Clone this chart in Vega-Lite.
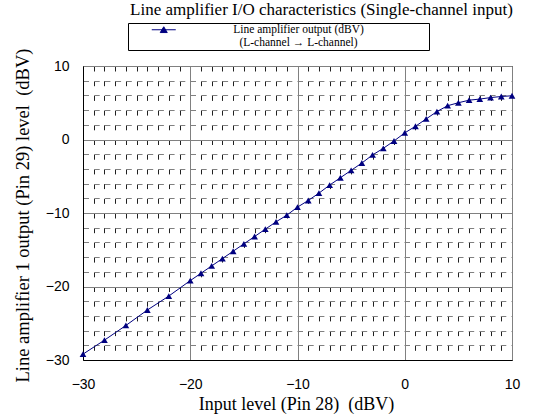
{
  "$schema": "https://vega.github.io/schema/vega-lite/v6.json",
  "autosize": "none",
  "width": 429,
  "height": 294,
  "padding": {"left": 83, "top": 66, "right": 38, "bottom": 58},
  "background": "white",
  "title": {
    "text": "Line amplifier I/O characteristics (Single-channel input)",
    "font": "Liberation Serif",
    "fontSize": 17,
    "fontWeight": "normal",
    "color": "black",
    "anchor": "middle",
    "frame": "group",
    "dx": 24,
    "offset": 4
  },
  "data": {
    "values": [
      {"input": -30, "output": -29.2, "series": "L"},
      {"input": -28, "output": -27.3, "series": "L"},
      {"input": -26, "output": -25.3, "series": "L"},
      {"input": -24, "output": -23.2, "series": "L"},
      {"input": -22, "output": -21.3, "series": "L"},
      {"input": -20, "output": -19.2, "series": "L"},
      {"input": -19, "output": -18.2, "series": "L"},
      {"input": -18, "output": -17.2, "series": "L"},
      {"input": -17, "output": -16.2, "series": "L"},
      {"input": -16, "output": -15.2, "series": "L"},
      {"input": -15, "output": -14.2, "series": "L"},
      {"input": -14, "output": -13.2, "series": "L"},
      {"input": -13, "output": -12.2, "series": "L"},
      {"input": -12, "output": -11.2, "series": "L"},
      {"input": -11, "output": -10.3, "series": "L"},
      {"input": -10, "output": -9.2, "series": "L"},
      {"input": -9, "output": -8.3, "series": "L"},
      {"input": -8, "output": -7.3, "series": "L"},
      {"input": -7, "output": -6.2, "series": "L"},
      {"input": -6, "output": -5.2, "series": "L"},
      {"input": -5, "output": -4.2, "series": "L"},
      {"input": -4, "output": -3.2, "series": "L"},
      {"input": -3, "output": -2.1, "series": "L"},
      {"input": -2, "output": -1.2, "series": "L"},
      {"input": -1, "output": -0.2, "series": "L"},
      {"input": 0, "output": 0.9, "series": "L"},
      {"input": 1, "output": 1.8, "series": "L"},
      {"input": 2, "output": 2.8, "series": "L"},
      {"input": 3, "output": 3.8, "series": "L"},
      {"input": 4, "output": 4.6, "series": "L"},
      {"input": 5, "output": 5.0, "series": "L"},
      {"input": 6, "output": 5.35, "series": "L"},
      {"input": 7, "output": 5.5, "series": "L"},
      {"input": 8, "output": 5.7, "series": "L"},
      {"input": 9, "output": 5.85, "series": "L"},
      {"input": 10, "output": 5.95, "series": "L"}
    ]
  },
  "encoding": {
    "x": {
      "field": "input",
      "type": "quantitative",
      "scale": {"domain": [-30, 10], "nice": false, "zero": false},
      "axis": {
        "title": "Input level (Pin 28) \u00a0(dBV)",
        "values": [-30,-29,-28,-27,-26,-25,-24,-23,-22,-21,-20,-19,-18,-17,-16,-15,-14,-13,-12,-11,-10,-9,-8,-7,-6,-5,-4,-3,-2,-1,0,1,2,3,4,5,6,7,8,9,10],
        "labelExpr": "datum.value % 10 === 0 ? datum.label : ''",
        "labelFlush": false,
        "grid": true,
        "gridColor": {"condition": {"test": "datum.value % 10 === 0", "value": "#808080"}, "value": "#202020"},
        "gridDash": {"condition": {"test": "datum.value % 10 === 0", "value": []}, "value": [5, 9.7]},
        "gridWidth": 1,
        "ticks": false,
        "domainColor": "black",
        "domainWidth": 1,
        "labelFont": "Liberation Sans",
        "labelFontSize": 14,
        "labelColor": "black",
        "labelPadding": 17,
        "labelOverlap": false,
        "titleFont": "Liberation Serif",
        "titleFontSize": 18,
        "titleFontWeight": "normal",
        "titleColor": "black",
        "titleBaseline": "alphabetic",
        "titleY": 49,
        "titleX": 213
      }
    },
    "y": {
      "field": "output",
      "type": "quantitative",
      "scale": {"domain": [-30, 10], "nice": false, "zero": false},
      "axis": {
        "title": "Line amplifier 1 output (Pin 29) level \u00a0(dBV)",
        "values": [-30,-28,-26,-24,-22,-20,-18,-16,-14,-12,-10,-8,-6,-4,-2,0,2,4,6,8,10],
        "labelExpr": "datum.value % 10 === 0 ? datum.label : ''",
        "labelFlush": false,
        "grid": true,
        "gridColor": "#808080",
        "gridDash": {"condition": {"test": "datum.value % 10 === 0", "value": []}, "value": [5.5, 5.2]},
        "gridWidth": 1,
        "ticks": false,
        "domainColor": "black",
        "domainWidth": 1,
        "labelFont": "Liberation Sans",
        "labelFontSize": 14,
        "labelColor": "black",
        "labelPadding": 14,
        "labelOverlap": false,
        "titleFont": "Liberation Serif",
        "titleFontSize": 18.5,
        "titleFontWeight": "normal",
        "titleColor": "black",
        "titleAngle": -90,
        "titleAlign": "center",
        "titleBaseline": "alphabetic",
        "titleX": -55,
        "titleY": 149
      }
    },
    "color": {
      "field": "series",
      "type": "nominal",
      "scale": {"domain": ["L"], "range": ["#000080"]},
      "legend": {
        "title": ".",
        "titleOrient": "right",
        "titleColor": "white",
        "titleFontSize": 8,
        "titlePadding": 62,
        "orient": "none",
        "legendX": 45,
        "legendY": -43,
        "direction": "vertical",
        "padding": 1,
        "strokeColor": "black",
        "fillColor": "white",
        "symbolType": "M-3,0H3M0,-0.75L0.875,0.7H-0.875Z",
        "symbolSize": 64,
        "symbolStrokeWidth": 1,
        "symbolOffset": 29,
        "labelExpr": "['Line amplifier output (dBV)', '(L-channel \u2192 L-channel)']",
        "labelFont": "Liberation Serif",
        "labelFontSize": 11.5,
        "labelLineHeight": 13.5,
        "labelAlign": "center",
        "labelBaseline": "middle",
        "labelColor": "black",
        "labelOffset": 129,
        "labelLimit": 500,
        "encode": {
          "symbols": {"update": {"fill": {"value": "#000080"}, "stroke": {"value": "#000080"}, "strokeWidth": {"value": 1}, "opacity": {"value": 1}}},
          "labels": {"update": {"lineHeight": {"value": 13.5}}}
        }
      }
    }
  },
  "layer": [
    {"mark": {"type": "line", "strokeWidth": 1, "color": "#000080"}},
    {"mark": {"type": "point", "shape": "triangle-up", "filled": true, "size": 45, "opacity": 1, "color": "#000080"}}
  ],
  "config": {
    "view": {"stroke": "black", "strokeWidth": 1},
    "font": "Liberation Serif"
  }
}
